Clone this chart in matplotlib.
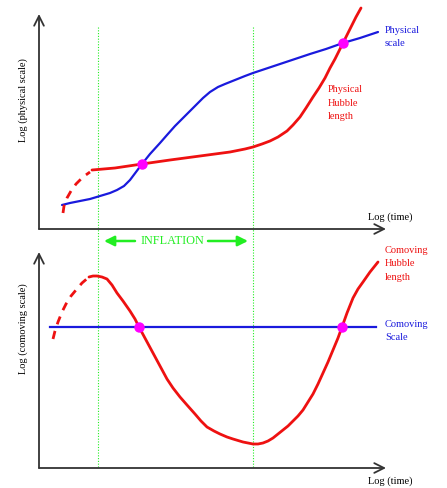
import numpy as np
import matplotlib
matplotlib.use('Agg')
import matplotlib.pyplot as plt

# ========================
# Physical vs comoving scales during inflation
# (in picture pixel units)
# ========================

# top panel: physical scale (blue) and physical Hubble length (red)
phys_scale_x = [62, 70, 80, 90, 100, 110, 117, 124, 130, 136, 142, 150, 160, 167, 175, 185,
                195, 203, 210, 218, 225, 235, 245, 253, 265, 280, 295, 310, 326, 343, 360, 378]
phys_scale_y = [205, 203, 201, 199, 196, 193, 190, 186, 180, 172, 164, 154, 143, 135, 126, 116,
                106, 98, 92, 87, 84, 80, 76, 73, 69, 64, 59, 54, 49, 43, 38, 32]

phys_hub_dash_x = [63, 64, 67, 71, 76, 83, 90]
phys_hub_dash_y = [213, 206, 198, 191, 184, 177, 172]
phys_hub_x = [92, 115, 142, 170, 200, 230, 245, 253, 262, 270, 278, 287, 293, 300, 306, 313,
              319, 325, 330, 335, 339, 343, 347, 352, 356, 361]
phys_hub_y = [170, 168, 164, 160, 156, 152, 149, 147, 144, 141, 137, 131, 125, 117, 108, 97,
              88, 78, 68, 59, 51, 43, 35, 25, 17, 8]
phys_cross_x = [142, 343]
phys_cross_y = [164, 43]

# bottom panel: comoving scale (blue) and comoving Hubble length (red)
como_scale_x = [50, 376]
como_scale_y = [327, 327]

como_hub_dash_x = [53, 55, 58, 62, 66, 71, 76, 82, 89]
como_hub_dash_y = [339, 331, 322, 312, 304, 296, 290, 283, 277]
como_hub_x = [89, 93, 97, 102, 107, 112, 117, 123, 130, 135, 139, 146, 153, 160, 167, 173,
              180, 187, 195, 201, 207, 214, 220, 227, 233, 243, 253, 258, 263, 268, 273, 278,
              283, 288, 293, 298, 303, 308, 313, 318, 323, 328, 333, 338, 342, 347, 353, 358,
              363, 370, 378]
como_hub_y = [277, 276, 276, 277, 279, 285, 293, 301, 311, 319, 327, 340, 353, 366, 379, 388,
              397, 405, 414, 421, 427, 431, 434, 437, 439, 442, 444, 444, 443, 441, 438, 434,
              430, 426, 421, 416, 410, 402, 394, 384, 373, 362, 350, 338, 327, 313, 298, 289,
              282, 272, 262]
como_cross_x = [139, 342]
como_cross_y = [327, 327]

inflation_start = 98
inflation_end = 253

RED = '#ee1111'
BLUE = '#1a1add'
MAGENTA = '#ff00ff'
GREEN = '#22ee22'


def axis_arrows(ax, x0, y0, xend, ytop):
    kw = dict(arrowstyle='->,head_length=0.7,head_width=0.35', lw=1.3, color='#333333',
              shrinkA=0, shrinkB=0)
    ax.annotate('', xy=(xend, y0), xytext=(x0, y0), arrowprops=kw)
    ax.annotate('', xy=(x0, ytop), xytext=(x0, y0), arrowprops=kw)


def main():
    fig = plt.figure(figsize=(4.47, 4.88), dpi=100)
    ax = fig.add_axes([0, 0, 1, 1])
    ax.set_xlim(0, 447)
    ax.set_ylim(488, 0)
    ax.axis('off')

    font = dict(family=['Liberation Serif', 'DejaVu Serif'], fontsize=7.5)

    # inflation period markers
    for x in (inflation_start, inflation_end):
        ax.plot([x, x], [27, 468], color=GREEN, lw=0.8, ls=(0, (1, 1.5)))

    # axes
    axis_arrows(ax, 39, 229, 386, 14)
    axis_arrows(ax, 39, 468, 386, 252)

    # top panel
    ax.plot(phys_scale_x, phys_scale_y, color=BLUE, lw=1.6, solid_capstyle='round',
            solid_joinstyle='round')
    ax.plot(phys_hub_dash_x, phys_hub_dash_y, color=RED, lw=2.0, ls=(0, (3, 2.5)))
    ax.plot(phys_hub_x, phys_hub_y, color=RED, lw=2.0, solid_capstyle='round',
            solid_joinstyle='round')
    ax.plot(phys_cross_x, phys_cross_y, 'o', color=MAGENTA, ms=6.5, zorder=5)

    # bottom panel
    ax.plot(como_scale_x, como_scale_y, color=BLUE, lw=1.6)
    ax.plot(como_hub_dash_x, como_hub_dash_y, color=RED, lw=2.0, ls=(0, (3, 2.5)))
    ax.plot(como_hub_x, como_hub_y, color=RED, lw=2.0, solid_capstyle='round',
            solid_joinstyle='round')
    ax.plot(como_cross_x, como_cross_y, 'o', color=MAGENTA, ms=6.5, zorder=5)

    # inflation arrow
    ax.annotate('', xy=(104, 241), xytext=(135, 241),
                arrowprops=dict(arrowstyle='-|>,head_length=0.6,head_width=0.3',
                                color=GREEN, lw=1.8, shrinkA=0, shrinkB=0))
    ax.annotate('', xy=(248, 241), xytext=(208, 241),
                arrowprops=dict(arrowstyle='-|>,head_length=0.6,head_width=0.3',
                                color=GREEN, lw=1.8, shrinkA=0, shrinkB=0))
    ax.text(172, 241, 'INFLATION', color=GREEN, ha='center', va='center',
            family=['Liberation Serif', 'DejaVu Serif'], fontsize=8.8)

    # labels
    ax.text(385, 37, 'Physical\nscale', color=BLUE, ha='left', va='center',
            linespacing=1.6, **font)
    ax.text(328, 103, 'Physical\nHubble\nlength', color=RED, ha='left', va='center',
            linespacing=1.6, **font)
    ax.text(385, 264, 'Comoving\nHubble\nlength', color=RED, ha='left', va='center',
            linespacing=1.6, **font)
    ax.text(385, 331, 'Comoving\nScale', color=BLUE, ha='left', va='center',
            linespacing=1.6, **font)

    ax.text(390, 217, 'Log (time)', color='black', ha='center', va='center', **font)
    ax.text(390, 481, 'Log (time)', color='black', ha='center', va='center', **font)
    ax.text(23, 100, 'Log (physical scale)', color='black', ha='center', va='center',
            rotation=90, **font)
    ax.text(23, 329, 'Log (comoving scale)', color='black', ha='center', va='center',
            rotation=90, **font)

    fig.savefig('out.png', dpi=100)


if __name__ == '__main__':
    main()
